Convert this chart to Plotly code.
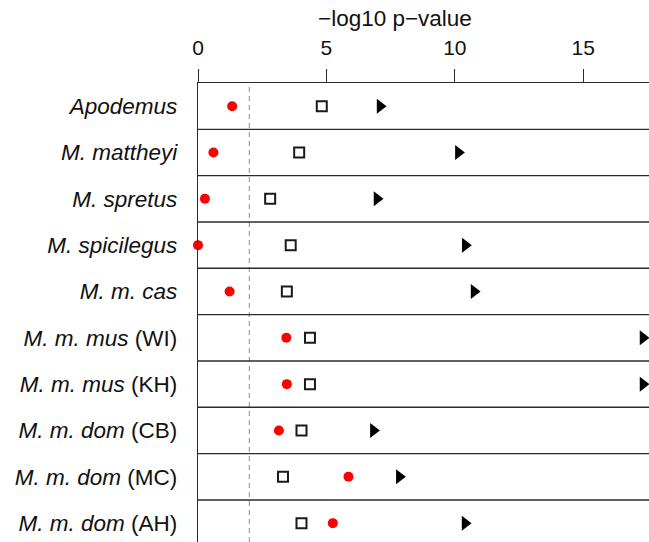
import plotly.graph_objects as go

# Taxa, top to bottom
taxa = [
    "<i>Apodemus</i>",
    "<i>M. mattheyi</i>",
    "<i>M. spretus</i>",
    "<i>M. spicilegus</i>",
    "<i>M. m. cas</i>",
    "<i>M. m. mus</i> (WI)",
    "<i>M. m. mus</i> (KH)",
    "<i>M. m. dom</i> (CB)",
    "<i>M. m. dom</i> (MC)",
    "<i>M. m. dom</i> (AH)",
]

# -log10 p-values for the three tests
circle_vals = [1.33, 0.60, 0.27, 0.0, 1.23, 3.44, 3.46, 3.15, 5.86, 5.25]
square_vals = [4.82, 3.94, 2.81, 3.61, 3.46, 4.36, 4.36, 4.03, 3.31, 4.03]
triangle_vals = [7.09, 10.14, 6.97, 10.41, 10.75, 17.33, 17.33, 6.83, 7.84, 10.40]

x_ticks = [0, 5, 10, 15]
threshold = 2.0

FONT = "Liberation Sans, Arial, Helvetica, sans-serif"
LINE = "#2b2b2b"

rows = list(range(len(taxa)))

fig = go.Figure()
fig.add_trace(go.Scatter(
    x=circle_vals, y=rows, mode="markers", cliponaxis=False,
    marker=dict(symbol="circle", size=10, color="#ff0000", line=dict(width=0)),
    showlegend=False,
))
fig.add_trace(go.Scatter(
    x=square_vals, y=rows, mode="markers", cliponaxis=False,
    marker=dict(symbol="square-open", size=10, color="#1a1a1a", line=dict(width=2, color="#1a1a1a")),
    showlegend=False,
))
fig.add_trace(go.Scatter(
    x=triangle_vals, y=rows, mode="markers", cliponaxis=False,
    marker=dict(symbol="triangle-right", size=13, color="#000000", line=dict(width=0)),
    showlegend=False,
))

# significance threshold
fig.add_shape(type="line", xref="x", yref="paper", x0=threshold, x1=threshold, y0=0, y1=1,
              line=dict(color="#a8a8a8", width=1.3, dash="5px,4px"), layer="below")

# row separators
for i in range(len(taxa) - 1):
    fig.add_shape(type="line", xref="paper", yref="y", x0=0, x1=1, y0=i + 0.5, y1=i + 0.5,
                  line=dict(color=LINE, width=1.4), layer="below")

fig.add_annotation(text="\u2212log10 p\u2212value", xref="paper", yref="paper",
                   x=(394.5 - 198) / 451, y=1 + (83.3 - 19) / 458.7,
                   xanchor="center", yanchor="middle", showarrow=False,
                   font=dict(family=FONT, size=22.5, color="#111111"))

fig.update_layout(
    width=649, height=542,
    margin=dict(l=198, r=0, t=83, b=0, pad=0),
    paper_bgcolor="white", plot_bgcolor="white",
    font=dict(family=FONT, color="#111111"),
    xaxis=dict(
        side="top", range=[0, 451 / 25.68], tickvals=x_ticks,
        ticktext=[str(t) for t in x_ticks],
        ticks="outside", ticklen=13, tickwidth=1.4, tickcolor=LINE,
        showline=True, linecolor=LINE, linewidth=1.4,
        showgrid=False, zeroline=False, ticklabelstandoff=5,
        tickfont=dict(family=FONT, size=21, color="#111111"),
    ),
    yaxis=dict(
        range=[-0.5 + 458.7 / 46.3, -0.5], tickvals=rows, ticktext=taxa,
        ticks="", showline=True, linecolor=LINE, linewidth=1.4,
        showgrid=False, zeroline=False, ticklabelstandoff=15,
        tickfont=dict(family=FONT, size=22.5, color="#111111"),
    ),
)

fig.write_html("out.html")
